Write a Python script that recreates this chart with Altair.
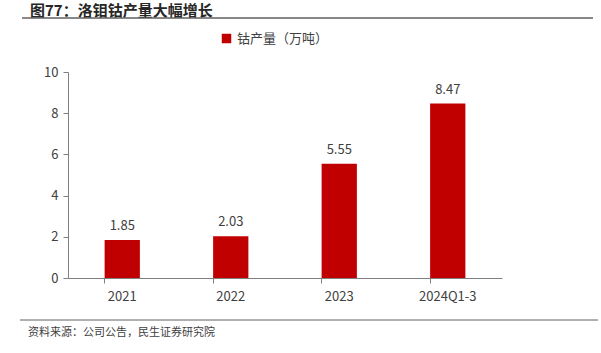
import altair as alt
import pandas as pd

categories = ["2021", "2022", "2023", "2024Q1-3"]
values = [1.85, 2.03, 5.55, 8.47]
labels = ["1.85", "2.03", "5.55", "8.47"]
series_name = "钴产量（万吨）"
title_text = "图77：洛钼钴产量大幅增长"
source_text = "资料来源：公司公告，民生证券研究院"

df = pd.DataFrame({"cat": categories, "val": values, "lab": labels, "series": series_name})

FONT = "Noto Sans CJK SC"
W, H = 434, 206
RED = "#C00000"

x_enc = alt.X("cat:N", sort=categories, title=None,
              scale=alt.Scale(paddingInner=0.675, paddingOuter=0.3375),
              axis=alt.Axis(labelAngle=0, labelFont=FONT, labelFontSize=13, labelColor="#404040",
                            domainColor="#808080", tickColor="#808080", tickSize=5,
                            labelPadding=7, bandPosition=0, ticks=True, grid=False))
y_enc = alt.Y("val:Q", title=None,
              scale=alt.Scale(domain=[0, 10], nice=False),
              axis=alt.Axis(values=[0, 2, 4, 6, 8, 10], labelFont=FONT, labelFontSize=13,
                            labelColor="#404040", domainColor="#808080", tickColor="#808080",
                            tickSize=5, labelPadding=5, grid=False))

bars = alt.Chart(df).mark_bar(color=RED).encode(
    x=x_enc, y=y_enc,
    color=alt.Color("series:N", scale=alt.Scale(range=[RED]),
                    legend=alt.Legend(title=None, orient="none", legendX=152, legendY=-40,
                                      symbolType="square", symbolSize=90,
                                      labelFont=FONT, labelFontSize=13, labelColor="#404040")),
)

text = alt.Chart(df).mark_text(dy=-14, font=FONT, fontSize=13, color="#404040").encode(
    x=alt.X("cat:N", sort=categories), y="val:Q", text="lab:N"
)

title = alt.Chart(pd.DataFrame({"t": [title_text]})).mark_text(
    font=FONT, fontSize=15, fontWeight="bold", color="#262626", align="left", baseline="alphabetic"
).encode(x=alt.value(-38), y=alt.value(-56), text="t:N")

top_line = alt.Chart(pd.DataFrame({"a": [0]})).mark_rule(color="#606060", strokeWidth=1.5).encode(
    x=alt.value(-46), x2=alt.value(525), y=alt.value(-54)
)
bottom_line = alt.Chart(pd.DataFrame({"a": [0]})).mark_rule(color="#606060", strokeWidth=1).encode(
    x=alt.value(-48), x2=alt.value(530), y=alt.value(248)
)
source = alt.Chart(pd.DataFrame({"t": [source_text]})).mark_text(
    font=FONT, fontSize=11, color="#404040", align="left", baseline="middle"
).encode(x=alt.value(-40), y=alt.value(261), text="t:N")

chart = alt.layer(bars, text, title, top_line, bottom_line, source).properties(
    width=W, height=H,
    autosize=alt.AutoSizeParams(type="none"),
    padding={"left": 68, "top": 72, "right": 99, "bottom": 75},
).configure_view(stroke=None)

chart.save("out.html", embed_options={"renderer": "svg", "actions": False})
